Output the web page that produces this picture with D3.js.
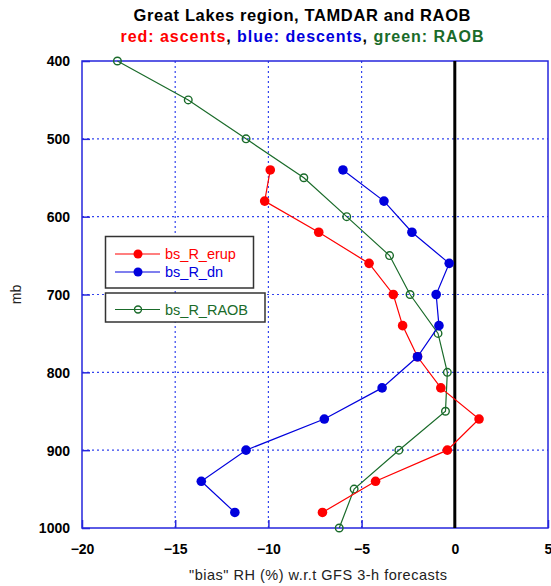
<!DOCTYPE html>
<html>
<head>
<meta charset="utf-8">
<script src="https://cdn.jsdelivr.net/npm/d3@7"></script>
<style>
  html, body { margin: 0; padding: 0; background: #fff; }
  svg { display: block; font-family: "Liberation Sans", Arial, sans-serif; }
</style>
</head>
<body>
<svg id="chart" width="551" height="586"></svg>
<script>
// Pressure levels (mb) and RH bias (%) for each profile
const levelsRaob = [400, 450, 500, 550, 600, 650, 700, 750, 800, 850, 900, 950, 1000];
const biasRaob   = [-18.1, -14.3, -11.2, -8.1, -5.8, -3.5, -2.4, -0.9, -0.4, -0.5, -3.0, -5.4, -6.2];

const levelsTamdar = [540, 580, 620, 660, 700, 740, 780, 820, 860, 900, 940, 980];
const biasErup     = [-9.9, -10.2, -7.3, -4.6, -3.3, -2.8, -2.0, -0.75, 1.3, -0.4, -4.25, -7.1];
const biasDn       = [-6.0, -3.8, -2.3, -0.3, -1.0, -0.85, -2.0, -3.9, -7.0, -11.2, -13.6, -11.8];

const xTicks = [-20, -15, -10, -5, 0, 5];
const yTicks = [400, 500, 600, 700, 800, 900, 1000];

const colors = { erup: "#ff0000", dn: "#0000dd", raob: "#1a6b2a" };

(function () {
  const svg = d3.select("#chart");
  const pLeft = 82, pRight = 548, pTop = 61, pBottom = 528;

  const x = d3.scaleLinear().domain([-20, 5]).range([pLeft, pRight]);
  const y = d3.scaleLinear().domain([400, 1000]).range([pTop, pBottom]);

  // Dotted grid
  const gridColor = "#3344ee";
  svg.append("g").selectAll("line").data(xTicks.slice(1, -1).filter(d => d !== 0)).join("line")
    .attr("x1", d => x(d)).attr("x2", d => x(d)).attr("y1", pTop).attr("y2", pBottom)
    .attr("stroke", gridColor).attr("stroke-width", 1.2).attr("stroke-dasharray", "2,3");
  svg.append("g").selectAll("line").data(yTicks.slice(1, -1)).join("line")
    .attr("y1", d => y(d)).attr("y2", d => y(d)).attr("x1", pLeft).attr("x2", pRight)
    .attr("stroke", gridColor).attr("stroke-width", 1.2).attr("stroke-dasharray", "2,3");

  // Axes with inward ticks
  const frameColor = "#2626dd";
  const xAxis = svg.append("g").attr("transform", `translate(0,${pBottom})`)
    .call(d3.axisBottom(x).tickValues(xTicks).tickSize(-8).tickPadding(16).tickFormat(d3.format("d")));
  const yAxis = svg.append("g").attr("transform", `translate(${pLeft},0)`)
    .call(d3.axisLeft(y).tickValues(yTicks).tickSize(-8).tickPadding(12).tickFormat(d3.format("d")));
  [xAxis, yAxis].forEach(g => {
    g.select(".domain").remove();
    g.selectAll(".tick line").attr("stroke", frameColor).attr("stroke-width", 1.5);
    g.selectAll(".tick text").attr("fill", "#000").attr("font-size", 14).attr("font-weight", "bold")
      .attr("font-family", "Liberation Sans, Arial, sans-serif");
  });
  yAxis.selectAll(".tick text").attr("dy", "0.35em");

  // Plot frame
  svg.append("rect").attr("x", pLeft).attr("y", pTop).attr("width", pRight - pLeft).attr("height", pBottom - pTop)
    .attr("fill", "none").attr("stroke", frameColor).attr("stroke-width", 1.5);

  // Zero line
  svg.append("line").attr("x1", x(0)).attr("x2", x(0)).attr("y1", pTop).attr("y2", pBottom)
    .attr("stroke", "#000").attr("stroke-width", 3);

  // Profiles
  function drawSeries(levels, vals, color, open) {
    const pts = levels.map((p, i) => [vals[i], p]);
    const line = d3.line().x(d => x(d[0])).y(d => y(d[1]));
    svg.append("path").datum(pts).attr("d", line)
      .attr("fill", "none").attr("stroke", color).attr("stroke-width", 1.2);
    svg.append("g").selectAll("circle").data(pts).join("circle")
      .attr("cx", d => x(d[0])).attr("cy", d => y(d[1]))
      .attr("r", open ? 3.8 : 4.8)
      .attr("fill", open ? "none" : color)
      .attr("stroke", color).attr("stroke-width", open ? 1.4 : 0);
  }
  drawSeries(levelsRaob, biasRaob, colors.raob, true);
  drawSeries(levelsTamdar, biasErup, colors.erup, false);
  drawSeries(levelsTamdar, biasDn, colors.dn, false);

  // Legend boxes
  const legend = svg.append("g");
  legend.append("rect").attr("x", 105.5).attr("y", 236.5).attr("width", 148).attr("height", 51.5)
    .attr("fill", "#fff").attr("stroke", "#333").attr("stroke-width", 1.5);
  legend.append("rect").attr("x", 105.5).attr("y", 293).attr("width", 159.5).attr("height", 29)
    .attr("fill", "#fff").attr("stroke", "#333").attr("stroke-width", 1.5);
  const legendItems = [
    { label: "bs_R_erup", color: colors.erup, open: false, ly: 254 },
    { label: "bs_R_dn", color: colors.dn, open: false, ly: 272 },
    { label: "bs_R_RAOB", color: colors.raob, open: true, ly: 309.5 }
  ];
  legendItems.forEach(it => {
    legend.append("line").attr("x1", 115).attr("x2", 160).attr("y1", it.ly).attr("y2", it.ly)
      .attr("stroke", it.color).attr("stroke-width", 1.2);
    legend.append("circle").attr("cx", 138).attr("cy", it.ly).attr("r", it.open ? 3.5 : 4.5)
      .attr("fill", it.open ? "none" : it.color).attr("stroke", it.color).attr("stroke-width", it.open ? 1.4 : 0);
    legend.append("text").attr("x", 165).attr("y", it.ly).attr("dy", "0.36em")
      .attr("font-size", 14.5).attr("fill", it.color).text(it.label);
  });

  // Titles
  svg.append("text").attr("x", 302).attr("y", 21).attr("text-anchor", "middle")
    .attr("font-size", 16.5).attr("font-weight", "bold").attr("fill", "#000")
    .attr("textLength", 337).attr("lengthAdjust", "spacing")
    .text("Great Lakes region, TAMDAR and RAOB");
  const sub = svg.append("text").attr("x", 302).attr("y", 42).attr("text-anchor", "middle")
    .attr("font-size", 16).attr("font-weight", "bold")
    .attr("textLength", 363).attr("lengthAdjust", "spacing");
  sub.append("tspan").attr("fill", colors.erup).text("red: ascents");
  sub.append("tspan").attr("fill", "#000").text(", ");
  sub.append("tspan").attr("fill", colors.dn).text("blue: descents");
  sub.append("tspan").attr("fill", "#000").text(", ");
  sub.append("tspan").attr("fill", colors.raob).text("green: RAOB");

  // Axis titles
  svg.append("text").attr("x", 318).attr("y", 580).attr("text-anchor", "middle")
    .attr("font-size", 14.5).attr("fill", "#222")
    .attr("textLength", 258).attr("lengthAdjust", "spacing")
    .text("\"bias\" RH (%) w.r.t GFS 3-h forecasts");
  svg.append("text").attr("transform", `translate(21,${(pTop + pBottom) / 2}) rotate(-90)`)
    .attr("text-anchor", "middle").attr("font-size", 14).attr("fill", "#222").text("mb");
})();
</script>
</body>
</html>
